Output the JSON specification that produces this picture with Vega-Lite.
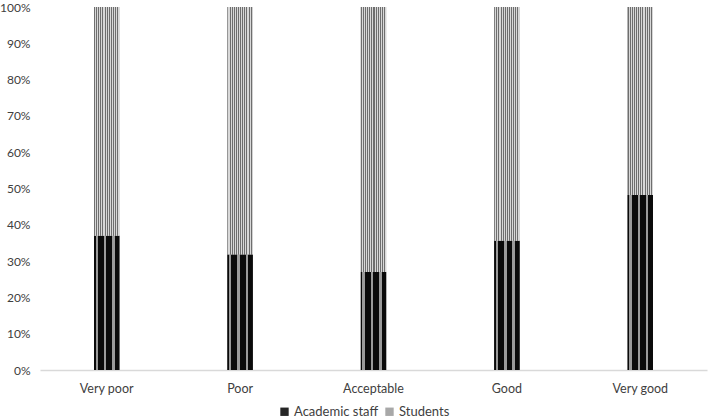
{
  "$schema": "https://vega.github.io/schema/vega-lite/v6.json",
  "width": 667,
  "height": 363,
  "autosize": {"type": "none"},
  "padding": {"left": 40, "top": 7, "right": 2, "bottom": 50},
  "background": "white",
  "config": {
    "font": "Lato",
    "view": {"stroke": null}
  },
  "data": {
    "values": [
      {"rating": "Very poor", "group": "Academic staff", "share": 37.0},
      {"rating": "Very poor", "group": "Students", "share": 63.0},
      {"rating": "Poor", "group": "Academic staff", "share": 31.8},
      {"rating": "Poor", "group": "Students", "share": 68.2},
      {"rating": "Acceptable", "group": "Academic staff", "share": 27.0},
      {"rating": "Acceptable", "group": "Students", "share": 73.0},
      {"rating": "Good", "group": "Academic staff", "share": 35.6},
      {"rating": "Good", "group": "Students", "share": 64.4},
      {"rating": "Very good", "group": "Academic staff", "share": 48.2},
      {"rating": "Very good", "group": "Students", "share": 51.8}
    ]
  },
  "transform": [
    {"stack": "share", "groupby": ["rating"], "sort": [{"field": "group", "order": "ascending"}], "offset": "normalize", "as": ["lo", "hi"]}
  ],
  "encoding": {
    "x": {
      "field": "rating",
      "type": "nominal",
      "sort": ["Very poor", "Poor", "Acceptable", "Good", "Very good"],
      "scale": {"paddingInner": 0.81, "paddingOuter": 0.405},
      "axis": {
        "title": null,
        "labelAngle": 0,
        "ticks": false,
        "domainColor": "#d9d9d9",
        "domainWidth": 1.5,
        "labelColor": "#404040",
        "labelFontSize": 12.5,
        "labelPadding": 12
      }
    },
    "y": {
      "field": "lo",
      "type": "quantitative",
      "scale": {"domain": [0, 1]},
      "axis": {
        "title": null,
        "format": "%",
        "values": [0, 0.1, 0.2, 0.3, 0.4, 0.5, 0.6, 0.7, 0.8, 0.9, 1],
        "grid": false,
        "domain": false,
        "ticks": false,
        "labelColor": "#404040",
        "labelFontSize": 12,
        "labelPadding": 10
      }
    },
    "y2": {"field": "hi"}
  },
  "layer": [
    {
      "mark": {"type": "bar"},
      "encoding": {
        "color": {
          "field": "group",
          "type": "nominal",
          "scale": {"domain": ["Academic staff", "Students"], "range": ["#262626", "#a8a8a8"]},
          "legend": {
            "title": null,
            "orient": "none",
            "direction": "horizontal",
            "legendX": 238,
            "legendY": 398,
            "symbolType": "square",
            "symbolSize": 70,
            "symbolStrokeWidth": 0,
            "labelFontSize": 13,
            "labelColor": "#404040",
            "columnPadding": 4,
            "labelOffset": 3
          }
        }
      }
    },
    {
      "transform": [{"filter": "datum.group === 'Academic staff'"}],
      "mark": {
        "type": "bar",
        "fill": {"gradient": "linear", "x1": 0, "y1": 0, "x2": 1, "y2": 0, "stops": [
          {"offset": 0, "color": "#0a0a0a"}, {"offset": 0.06, "color": "#0a0a0a"},
          {"offset": 0.06, "color": "#9a9a9a"}, {"offset": 0.16, "color": "#9a9a9a"},
          {"offset": 0.16, "color": "#0a0a0a"}, {"offset": 0.39, "color": "#0a0a0a"},
          {"offset": 0.39, "color": "#9a9a9a"}, {"offset": 0.49, "color": "#9a9a9a"},
          {"offset": 0.49, "color": "#0a0a0a"}, {"offset": 0.72, "color": "#0a0a0a"},
          {"offset": 0.72, "color": "#9a9a9a"}, {"offset": 0.82, "color": "#9a9a9a"},
          {"offset": 0.82, "color": "#0a0a0a"}, {"offset": 1, "color": "#0a0a0a"}
        ]}
      }
    },
    {
      "transform": [{"filter": "datum.group === 'Students'"}],
      "mark": {
        "type": "bar",
        "fill": {"gradient": "linear", "x1": 0, "y1": 0, "x2": 1, "y2": 0, "stops": [
          {"offset": 0, "color": "#6e6e6e"}, {"offset": 0.04, "color": "#6e6e6e"},
          {"offset": 0.04, "color": "#d8d8d8"}, {"offset": 0.083, "color": "#d8d8d8"},
          {"offset": 0.083, "color": "#6e6e6e"}, {"offset": 0.123, "color": "#6e6e6e"},
          {"offset": 0.123, "color": "#d8d8d8"}, {"offset": 0.166, "color": "#d8d8d8"},
          {"offset": 0.166, "color": "#6e6e6e"}, {"offset": 0.206, "color": "#6e6e6e"},
          {"offset": 0.206, "color": "#d8d8d8"}, {"offset": 0.25, "color": "#d8d8d8"},
          {"offset": 0.25, "color": "#6e6e6e"}, {"offset": 0.29, "color": "#6e6e6e"},
          {"offset": 0.29, "color": "#d8d8d8"}, {"offset": 0.333, "color": "#d8d8d8"},
          {"offset": 0.333, "color": "#6e6e6e"}, {"offset": 0.373, "color": "#6e6e6e"},
          {"offset": 0.373, "color": "#d8d8d8"}, {"offset": 0.416, "color": "#d8d8d8"},
          {"offset": 0.416, "color": "#6e6e6e"}, {"offset": 0.456, "color": "#6e6e6e"},
          {"offset": 0.456, "color": "#d8d8d8"}, {"offset": 0.5, "color": "#d8d8d8"},
          {"offset": 0.5, "color": "#6e6e6e"}, {"offset": 0.54, "color": "#6e6e6e"},
          {"offset": 0.54, "color": "#d8d8d8"}, {"offset": 0.583, "color": "#d8d8d8"},
          {"offset": 0.583, "color": "#6e6e6e"}, {"offset": 0.623, "color": "#6e6e6e"},
          {"offset": 0.623, "color": "#d8d8d8"}, {"offset": 0.666, "color": "#d8d8d8"},
          {"offset": 0.666, "color": "#6e6e6e"}, {"offset": 0.706, "color": "#6e6e6e"},
          {"offset": 0.706, "color": "#d8d8d8"}, {"offset": 0.75, "color": "#d8d8d8"},
          {"offset": 0.75, "color": "#6e6e6e"}, {"offset": 0.79, "color": "#6e6e6e"},
          {"offset": 0.79, "color": "#d8d8d8"}, {"offset": 0.833, "color": "#d8d8d8"},
          {"offset": 0.833, "color": "#6e6e6e"}, {"offset": 0.873, "color": "#6e6e6e"},
          {"offset": 0.873, "color": "#d8d8d8"}, {"offset": 0.916, "color": "#d8d8d8"},
          {"offset": 0.916, "color": "#6e6e6e"}, {"offset": 0.956, "color": "#6e6e6e"},
          {"offset": 0.956, "color": "#d8d8d8"}, {"offset": 1, "color": "#d8d8d8"}
        ]}
      }
    }
  ]
}
